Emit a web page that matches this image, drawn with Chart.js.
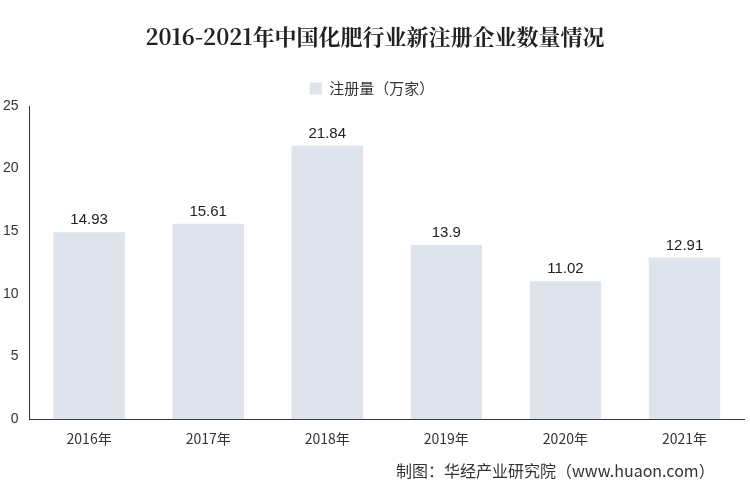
<!DOCTYPE html>
<html><head><meta charset="utf-8">
<script src="https://cdn.jsdelivr.net/npm/chart.js@4"></script>
<style>body{margin:0;background:#fff}#w{width:750px;height:500px;position:relative}
#t{position:absolute;top:20px;left:0;width:750px;text-align:center;font:bold 22px "Noto Serif CJK SC","Noto Sans CJK SC",serif;color:#222}
#s{position:absolute;top:458px;left:396px;font:16px "Noto Sans CJK SC";color:#333}</style></head>
<body><div id="w"><div id="t">2016-2021年中国化肥行业新注册企业数量情况</div>
<canvas id="c" width="750" height="500"></canvas>
<div id="s">制图：华经产业研究院（www.huaon.com）</div></div>
<script>
const categories = ['2016年','2017年','2018年','2019年','2020年','2021年'];
const values = [14.93, 15.61, 21.84, 13.9, 11.02, 12.91];
const seriesName = '注册量（万家）';
const labelPlugin = {id:'lbl', afterDatasetsDraw(ch){const c=ch.ctx;c.save();c.font='15px "Liberation Sans"';c.fillStyle='#222';c.textAlign='center';
ch.getDatasetMeta(0).data.forEach((b,i)=>c.fillText(values[i],b.x,b.y-12));c.restore();}};
new Chart(document.getElementById('c'),{type:'bar',
data:{labels:categories,datasets:[{label:seriesName,data:values,backgroundColor:'#dfe3ec',barPercentage:0.6,categoryPercentage:1}]},
options:{responsive:false,animation:false,layout:{padding:{top:71,left:0,right:6,bottom:50}},
plugins:{legend:{labels:{boxWidth:12,boxHeight:12,font:{size:15,family:'Noto Sans CJK SC'},color:'#333'}},tooltip:{enabled:false}},
scales:{y:{min:0,max:25,ticks:{stepSize:5,font:{size:14,family:'Liberation Sans'},color:'#333'},grid:{display:false},border:{color:'#333'}},
x:{ticks:{font:{size:14,family:'Noto Sans CJK SC'},color:'#333'},grid:{display:false,drawTicks:true},border:{color:'#333'}}}},
plugins:[labelPlugin]});
</script></body></html>
